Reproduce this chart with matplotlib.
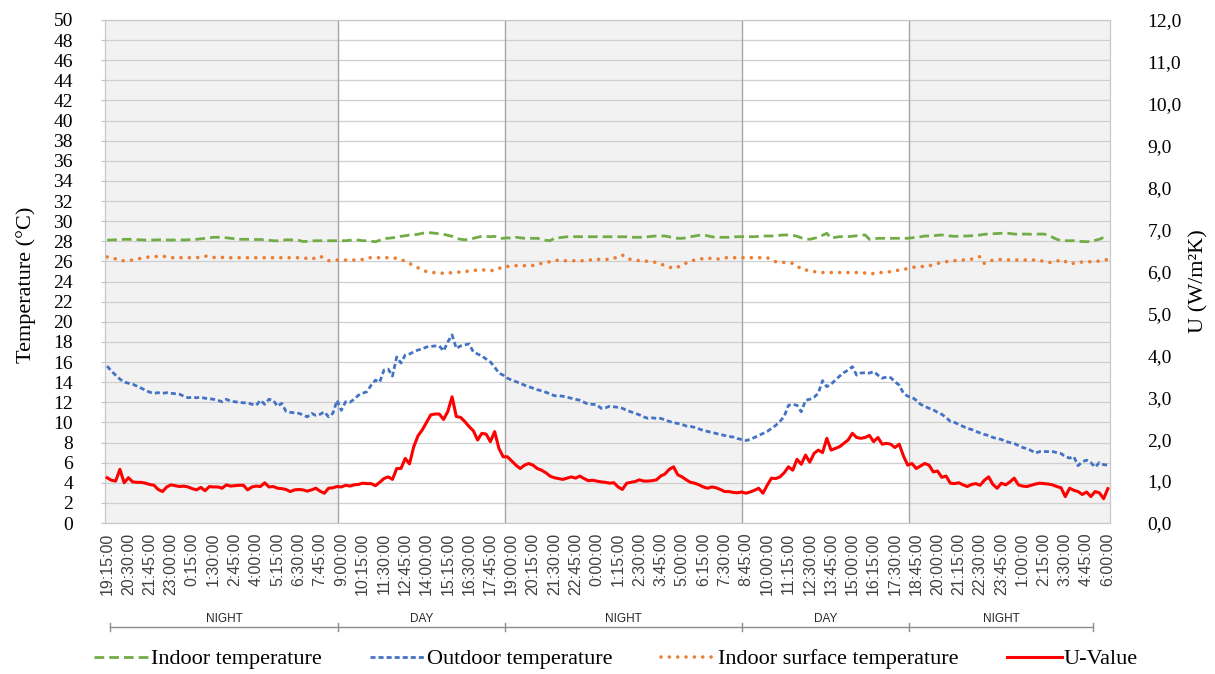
import numpy as np
import matplotlib
matplotlib.use("Agg")
import matplotlib.pyplot as plt
import matplotlib.transforms as mtransforms
from matplotlib.lines import Line2D
from matplotlib.ticker import FuncFormatter, MultipleLocator

# x tick labels (one every 5 readings, readings every 15 min)
time_labels = ["19:15:00", "20:30:00", "21:45:00", "23:00:00", "0:15:00", "1:30:00",
               "2:45:00", "4:00:00", "5:15:00", "6:30:00", "7:45:00", "9:00:00",
               "10:15:00", "11:30:00", "12:45:00", "14:00:00", "15:15:00", "16:30:00",
               "17:45:00", "19:00:00", "20:15:00", "21:30:00", "22:45:00", "0:00:00",
               "1:15:00", "2:30:00", "3:45:00", "5:00:00", "6:15:00", "7:30:00",
               "8:45:00", "10:00:00", "11:15:00", "12:30:00", "13:45:00", "15:00:00",
               "16:15:00", "17:30:00", "18:45:00", "20:00:00", "21:15:00", "22:30:00",
               "23:45:00", "1:00:00", "2:15:00", "3:30:00", "4:45:00", "6:00:00"]

periods = ["NIGHT", "DAY", "NIGHT", "DAY", "NIGHT"]
period_edges = [0.7, 54.2, 93.4, 149.1, 188.3, 231.6]   # in reading index

indoor_temp = [
    28.13, 28.13, 28.15, 28.15, 28.2, 28.2, 28.18, 28.15, 28.15, 28.13,
    28.13, 28.13, 28.15, 28.15, 28.13, 28.13, 28.13, 28.15, 28.13, 28.15,
    28.2, 28.2, 28.25, 28.3, 28.35, 28.4, 28.4, 28.4, 28.35, 28.3,
    28.25, 28.2, 28.2, 28.2, 28.18, 28.18, 28.18, 28.15, 28.1, 28.06,
    28.05, 28.08, 28.15, 28.15, 28.13, 28.1, 27.98, 28.0, 28.05, 28.06,
    28.06, 28.06, 28.06, 28.06, 28.06, 28.06, 28.06, 28.1, 28.15, 28.12,
    28.06, 28.06, 28.0, 27.96, 28.1, 28.3, 28.3, 28.35, 28.4, 28.5,
    28.55, 28.63, 28.65, 28.7, 28.8, 28.85, 28.85, 28.8, 28.75, 28.7,
    28.6, 28.5, 28.3, 28.2, 28.15, 28.2, 28.3, 28.4, 28.5, 28.5,
    28.45, 28.5, 28.3, 28.3, 28.35, 28.3, 28.4, 28.35, 28.3, 28.3,
    28.3, 28.3, 28.2, 28.1, 28.06, 28.3, 28.35, 28.4, 28.45, 28.46,
    28.46, 28.46, 28.46, 28.46, 28.46, 28.46, 28.46, 28.46, 28.46, 28.46,
    28.46, 28.46, 28.45, 28.4, 28.4, 28.4, 28.4, 28.45, 28.5, 28.53,
    28.53, 28.53, 28.45, 28.35, 28.3, 28.3, 28.35, 28.45, 28.53, 28.6,
    28.63, 28.55, 28.45, 28.4, 28.4, 28.4, 28.4, 28.45, 28.46, 28.46,
    28.46, 28.46, 28.46, 28.5, 28.53, 28.53, 28.53, 28.55, 28.6, 28.63,
    28.63, 28.6, 28.5, 28.35, 28.25, 28.2, 28.3, 28.4, 28.6, 28.8,
    28.3, 28.4, 28.46, 28.46, 28.46, 28.5, 28.55, 28.6, 28.63, 28.2,
    28.25, 28.3, 28.3, 28.3, 28.3, 28.3, 28.3, 28.3, 28.3, 28.35,
    28.4, 28.45, 28.53, 28.53, 28.55, 28.6, 28.63, 28.6, 28.53, 28.5,
    28.5, 28.53, 28.53, 28.55, 28.6, 28.63, 28.7, 28.72, 28.75, 28.78,
    28.8, 28.8, 28.78, 28.72, 28.7, 28.72, 28.72, 28.7, 28.72, 28.72,
    28.72, 28.6, 28.4, 28.2, 28.06, 28.06, 28.06, 28.06, 28.0, 27.98,
    27.96, 28.0, 28.1, 28.2, 28.4, 28.6]

outdoor_temp = [
    15.6, 15.1, 14.7, 14.3, 14.0, 13.9, 13.8, 13.6, 13.4, 13.2,
    13.0, 12.9, 12.95, 12.9, 12.95, 12.9, 12.85, 12.8, 12.6, 12.45,
    12.5, 12.45, 12.5, 12.4, 12.35, 12.3, 12.2, 12.05, 12.3, 12.1,
    12.05, 12.0, 11.95, 11.95, 11.8, 11.7, 12.2, 11.8, 12.3, 12.2,
    11.6, 11.9, 11.1, 11.0, 10.95, 10.9, 10.75, 10.55, 10.9, 10.7,
    10.8, 11.05, 10.55, 10.9, 12.2, 11.2, 12.05, 12.0, 12.3, 12.7,
    12.9, 13.05, 13.7, 14.2, 14.0, 15.2, 15.3, 14.6, 16.5, 15.9,
    16.7, 16.8, 17.0, 17.2, 17.3, 17.5, 17.55, 17.6, 17.6, 17.1,
    18.0, 18.7, 17.35, 17.6, 17.7, 17.8, 17.0, 16.8, 16.6, 16.3,
    16.0, 15.5, 14.9, 14.7, 14.4, 14.2, 14.05, 13.9, 13.7, 13.55,
    13.4, 13.25, 13.15, 13.0, 12.85, 12.65, 12.65, 12.6, 12.5, 12.4,
    12.3, 12.2, 12.0, 11.8, 11.8, 11.75, 11.4, 11.45, 11.6, 11.55,
    11.5, 11.4, 11.2, 11.05, 10.9, 10.75, 10.55, 10.4, 10.45, 10.4,
    10.4, 10.25, 10.1, 9.97, 9.9, 9.8, 9.64, 9.6, 9.5, 9.35,
    9.2, 9.1, 9.0, 8.9, 8.8, 8.7, 8.6, 8.55, 8.4, 8.3,
    8.2, 8.3, 8.5, 8.7, 8.9, 9.1, 9.4, 9.7, 10.1, 10.6,
    11.7, 11.8, 11.7, 11.06, 12.2, 12.3, 12.5, 12.9, 14.15, 13.55,
    13.8, 14.2, 14.6, 14.95, 15.2, 15.54, 14.7, 14.9, 14.95, 14.9,
    15.05, 14.7, 14.4, 14.5, 14.45, 14.05, 13.7, 12.9, 12.6, 12.5,
    12.2, 11.8, 11.6, 11.4, 11.25, 11.0, 10.8, 10.5, 10.1, 10.0,
    9.8, 9.6, 9.4, 9.3, 9.1, 8.95, 8.8, 8.7, 8.5, 8.4,
    8.3, 8.1, 8.0, 7.9, 7.7, 7.5, 7.4, 7.2, 6.95, 7.1,
    7.1, 7.1, 7.1, 7.0, 6.9, 6.6, 6.45, 6.6, 5.7, 6.1,
    6.25, 6.0, 5.55, 6.0, 5.8, 5.75]

surface_temp = [
    26.45, 26.4, 26.25, 26.07, 26.07, 26.07, 26.15, 26.23, 26.3, 26.4,
    26.45, 26.47, 26.5, 26.53, 26.45, 26.37, 26.37, 26.37, 26.37, 26.37,
    26.37, 26.37, 26.45, 26.53, 26.5, 26.4, 26.37, 26.4, 26.37, 26.37,
    26.37, 26.37, 26.37, 26.37, 26.37, 26.37, 26.37, 26.37, 26.37, 26.37,
    26.37, 26.37, 26.37, 26.37, 26.37, 26.37, 26.35, 26.3, 26.2, 26.4,
    26.53, 26.3, 26.07, 26.14, 26.14, 26.14, 26.14, 26.14, 26.14, 26.14,
    26.2, 26.37, 26.37, 26.37, 26.37, 26.37, 26.37, 26.37, 26.3, 26.2,
    26.0, 25.8, 25.6, 25.37, 25.2, 24.98, 24.93, 24.88, 24.85, 24.82,
    24.85, 24.88, 24.9, 24.95, 25.0, 25.05, 25.1, 25.15, 25.15, 25.15,
    25.12, 25.08, 25.3, 25.48, 25.5, 25.58, 25.58, 25.58, 25.58, 25.58,
    25.6, 25.75, 25.8, 25.9, 25.97, 26.05, 26.14, 26.07, 26.07, 26.07,
    26.07, 26.07, 26.07, 26.1, 26.2, 26.2, 26.2, 26.2, 26.2, 26.3,
    26.5, 26.64, 26.3, 26.2, 26.14, 26.07, 26.07, 26.0, 25.95, 25.9,
    25.75, 25.58, 25.45, 25.3, 25.45, 25.58, 25.85, 26.07, 26.14, 26.2,
    26.3, 26.37, 26.25, 26.2, 26.3, 26.37, 26.37, 26.37, 26.37, 26.37,
    26.37, 26.37, 26.37, 26.37, 26.37, 26.37, 26.2, 25.97, 25.93, 25.9,
    25.85, 25.82, 25.6, 25.2, 25.15, 25.1, 25.0, 24.88, 24.9, 24.9,
    24.9, 24.9, 24.9, 24.9, 24.9, 24.9, 24.9, 24.88, 24.85, 24.75,
    24.8, 24.88, 24.9, 24.95, 24.98, 25.05, 25.15, 25.2, 25.3, 25.4,
    25.45, 25.48, 25.5, 25.55, 25.7, 25.8, 25.9, 25.97, 26.05, 26.07,
    26.1, 26.14, 26.2, 26.23, 26.4, 26.47, 25.8, 26.0, 26.14, 26.17,
    26.2, 26.17, 26.14, 26.14, 26.14, 26.14, 26.14, 26.14, 26.14, 26.1,
    26.0, 25.9, 25.9, 26.0, 26.2, 26.0, 25.75, 25.82, 25.9, 25.95,
    25.97, 25.97, 25.97, 26.05, 26.14, 26.2]

u_value = [
    1.08, 1.02, 1.00, 1.28, 0.96, 1.08, 0.98, 0.97, 0.97, 0.95,
    0.92, 0.90, 0.80, 0.75, 0.86, 0.91, 0.89, 0.87, 0.88, 0.86,
    0.82, 0.79, 0.85, 0.77, 0.87, 0.86, 0.86, 0.83, 0.91, 0.88,
    0.89, 0.90, 0.90, 0.79, 0.86, 0.88, 0.87, 0.96, 0.86, 0.87,
    0.83, 0.82, 0.80, 0.75, 0.79, 0.80, 0.79, 0.76, 0.79, 0.83,
    0.76, 0.71, 0.83, 0.84, 0.87, 0.86, 0.90, 0.88, 0.91, 0.92,
    0.95, 0.94, 0.94, 0.89, 0.97, 1.06, 1.10, 1.04, 1.30, 1.30,
    1.54, 1.41, 1.82, 2.08, 2.22, 2.40, 2.58, 2.60, 2.60, 2.47,
    2.66, 3.01, 2.54, 2.52, 2.42, 2.30, 2.20, 1.98, 2.14, 2.12,
    1.94, 2.18, 1.78, 1.58, 1.58, 1.48, 1.38, 1.30, 1.38, 1.42,
    1.38, 1.30, 1.26, 1.20, 1.12, 1.08, 1.06, 1.04, 1.07, 1.10,
    1.07, 1.12, 1.06, 1.01, 1.02, 1.00, 0.98, 0.97, 0.95, 0.96,
    0.86, 0.80, 0.95, 0.97, 0.99, 1.03, 1.00, 1.00, 1.01, 1.03,
    1.12, 1.17, 1.28, 1.34, 1.15, 1.10, 1.03, 0.97, 0.95, 0.91,
    0.86, 0.83, 0.86, 0.84, 0.80, 0.75, 0.75, 0.73, 0.72, 0.74,
    0.71, 0.74, 0.78, 0.83, 0.71, 0.90, 1.07, 1.06, 1.10, 1.20,
    1.34, 1.26, 1.52, 1.40, 1.62, 1.45, 1.66, 1.74, 1.68, 2.02,
    1.74, 1.78, 1.82, 1.90, 1.98, 2.14, 2.04, 2.02, 2.04, 2.09,
    1.94, 2.04, 1.88, 1.90, 1.88, 1.80, 1.88, 1.60, 1.38, 1.42,
    1.30, 1.36, 1.42, 1.38, 1.22, 1.24, 1.09, 1.12, 0.95, 0.94,
    0.96, 0.91, 0.87, 0.92, 0.94, 0.90, 1.02, 1.10, 0.92, 0.83,
    0.95, 0.91, 0.98, 1.07, 0.91, 0.88, 0.87, 0.90, 0.93, 0.95,
    0.94, 0.93, 0.91, 0.87, 0.84, 0.63, 0.83, 0.78, 0.75, 0.68,
    0.74, 0.63, 0.75, 0.72, 0.58, 0.82]

GREEN = "#70AD47"
BLUE = "#4472C4"
ORANGE = "#ED7D31"
RED = "#FF0000"
SERIF = "Liberation Serif"
SANS = "Liberation Sans"

n = len(indoor_temp)
x = np.arange(n)

fig = plt.figure(figsize=(12.15, 6.74), dpi=100)
ax = fig.add_axes([105 / 1215, 151 / 674, 1005 / 1215, 503 / 674])
ax.set_xlim(-0.5, n - 0.5)
ax.set_ylim(0, 50)

# night shading and day/night dividers
for k, name in enumerate(periods):
    left = ax.get_xlim()[0] if k == 0 else period_edges[k]
    right = ax.get_xlim()[1] if k == len(periods) - 1 else period_edges[k + 1]
    if name == "NIGHT":
        ax.axvspan(left, right, color="#f2f2f2", zorder=0, lw=0)
for e in period_edges[1:-1]:
    ax.axvline(e, color="#a6a6a6", lw=1, zorder=1)

ax.set_yticks(range(0, 51, 2))
ax.grid(axis="y", color="#cfcfcf", lw=0.9)
ax.set_axisbelow(True)
for sp in ax.spines.values():
    sp.set_color("#c8c8c8")

ax.plot(x, indoor_temp, color=GREEN, lw=2, dashes=(3.5, 1.8), zorder=3)
ax.plot(x, outdoor_temp, color=BLUE, lw=2, dashes=(1.8, 1.1), zorder=3)
ax.plot(x, surface_temp, color=ORANGE, lw=2.6, dashes=(0.01, 2.3),
        dash_capstyle="round", zorder=3)

ax.set_xticks(x[::5])
ax.set_xticklabels(time_labels, rotation=90, family=SANS, fontsize=11.5, color="#404040")
ax.tick_params(axis="x", length=0, pad=7)
ax.tick_params(axis="y", length=3, color="#bfbfbf", pad=20, labelsize=14)
for t in ax.get_yticklabels():
    t.set_family(SERIF)
ax.set_ylabel("Temperature (°C)", family=SERIF, fontsize=16)
ax.yaxis.set_label_coords(-0.0687, 0.473)

ax2 = ax.twinx()
ax2.set_ylim(0, 12)
ax2.yaxis.set_major_locator(MultipleLocator(1))
ax2.yaxis.set_major_formatter(FuncFormatter(lambda v, p: f"{v:.1f}".replace(".", ",")))
ax2.plot(x, u_value, color=RED, lw=2.2, zorder=4)
ax2.tick_params(axis="y", length=0, pad=27, labelsize=14)
for t in ax2.get_yticklabels():
    t.set_family(SERIF)
for sp in ax2.spines.values():
    sp.set_color("#c8c8c8")
ax2.set_ylabel("U (W/m²K)", family=SERIF, fontsize=16)
ax2.yaxis.set_label_coords(1.0786, 0.48)

# NIGHT / DAY bracket under the time labels
trans = mtransforms.blended_transform_factory(ax.transData, fig.transFigure)
y_line = 1 - 627 / 674
fig.add_artist(Line2D([period_edges[0], period_edges[-1]], [y_line, y_line],
                      transform=trans, color="#8c8c8c", lw=1))
for e in period_edges:
    fig.add_artist(Line2D([e, e], [y_line - 0.006, y_line + 0.006],
                          transform=trans, color="#8c8c8c", lw=1))
for k, name in enumerate(periods):
    mid = (period_edges[k] + period_edges[k + 1]) / 2
    fig.text(mid, 1 - 619 / 674, name, transform=trans, ha="center", va="center",
             family=SANS, fontsize=8.5, color="#262626")

handles = [
    Line2D([], [], color=GREEN, lw=2, dashes=(3.5, 1.8)),
    Line2D([], [], color=BLUE, lw=2, dashes=(1.8, 1.1)),
    Line2D([], [], color=ORANGE, lw=2.6, dashes=(0.01, 2.3), dash_capstyle="round"),
    Line2D([], [], color=RED, lw=2.2),
]
labels = ["Indoor temperature", "Outdoor temperature", "Indoor surface temperature", "U-Value"]
fig.legend(handles, labels, loc="center", bbox_to_anchor=(616 / 1215, 15 / 674), ncol=4,
           frameon=False, prop={"family": SERIF, "size": 16}, handlelength=2.45,
           handletextpad=0.1, columnspacing=2.2)

fig.savefig("out.png", dpi=100)
